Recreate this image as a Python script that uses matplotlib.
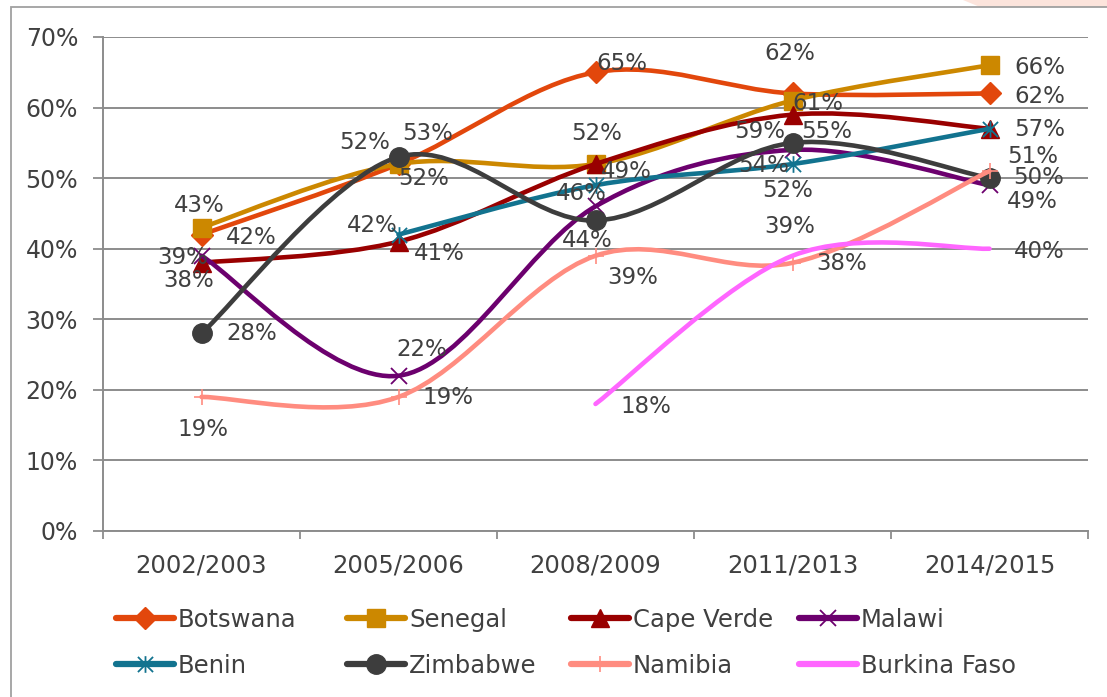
import numpy as np
import matplotlib
matplotlib.use("Agg")
import matplotlib.pyplot as plt
from matplotlib.path import Path
from matplotlib.patches import PathPatch, Rectangle, Polygon
from matplotlib.lines import Line2D

# ---------------- data ----------------
categories = ["2002/2003", "2005/2006", "2008/2009", "2011/2013", "2014/2015"]
series_names = ["Botswana", "Senegal", "Cape Verde", "Malawi",
                "Benin", "Zimbabwe", "Namibia", "Burkina Faso"]
botswana = [42, 52, 65, 62, 62]
senegal = [43, 52, 52, 61, 66]
cape_verde = [38, 41, 52, 59, 57]
malawi = [39, 22, 46, 54, 49]
benin = [np.nan, 42, 49, 52, 57]
zimbabwe = [28, 53, 44, 55, 50]
namibia = [19, 19, 39, 38, 51]
burkina_faso = [np.nan, np.nan, 18, 39, 40]
y_ticks = [0, 10, 20, 30, 40, 50, 60, 70]

values = [botswana, senegal, cape_verde, malawi, benin, zimbabwe, namibia, burkina_faso]

# ---------------- style ----------------
colors = ["#E2470C", "#CC8800", "#990000", "#6C006E",
          "#12738F", "#3D3D3D", "#FF8C80", "#FF66FF"]

star_path = Path([(-0.5, -0.5), (0.5, 0.5), (-0.5, 0.5), (0.5, -0.5), (0, -0.55), (0, 0.55)],
                 [Path.MOVETO, Path.LINETO, Path.MOVETO, Path.LINETO, Path.MOVETO, Path.LINETO])
markers = ["D", "s", "^", "x", star_path, "o", "+", None]
msizes = [11, 13, 13, 12, 12, 14, 11, 0]
mews = [1, 1, 1, 1.3, 1.3, 1, 1.2, 1]

# label offsets in pixels (dx, dy) where dy positive = down; None = no label
label_offsets = [
    [(50, 3), (25, 14), (26, -9), (-3, -40), (50, 3)],
    [(-2, -22), (-34, -22), (1, -31), (25, 3), (50, 2)],
    [(-13, 18), (41, 12), None, (-33, 17), None],
    [(-19, 2), (23, -26), (-14, -13), (-29, 16), (43, 16)],
    [None, (-26, -9), (31, -14), (-5, 26), (50, 1)],
    [(50, 0), (29, -23), (-8, 20), (34, -11), (49, -1)],
    [(1, 33), (49, 1), (37, 22), (49, 1), (43, -15)],
    [None, None, (50, 3), (-3, -29), (50, 3)],
]

text_color = "#404040"
grid_color = "#8C8C8C"
font = "DejaVu Sans"
plt.rcParams["font.family"] = [font]

W, H = 1107, 697
fig = plt.figure(figsize=(W / 100, H / 100), dpi=100)

# outer border + faint decoration
fig.patches.append(Polygon([(963 / W, 1), (980 / W, 1 - 7 / H), (1 + 0.01, 1 - 7 / H), (1 + 0.01, 1)],
                           closed=True, transform=fig.transFigure, facecolor="#FCE4DC",
                           edgecolor="none", zorder=0))
fig.patches.append(Rectangle((11 / W, -0.05), 1.2, 1 - 7 / H + 0.05, transform=fig.transFigure,
                             facecolor="none", edgecolor="#A0A0A0", linewidth=1.3, zorder=1))

ax_left, ax_right, ax_top, ax_bottom = 103, 1088, 37, 531
ax = fig.add_axes([ax_left / W, 1 - ax_bottom / H, (ax_right - ax_left) / W, (ax_bottom - ax_top) / H])
ax.set_facecolor("none")

x = np.arange(len(categories))


def smooth_path(xs, ys):
    pts = np.column_stack([xs, ys])
    n = len(pts)
    verts = [pts[0]]
    codes = [Path.MOVETO]
    for i in range(n - 1):
        p0 = pts[i]
        p3 = pts[i + 1]
        pm = pts[i - 1] if i > 0 else pts[i]
        pn = pts[i + 2] if i + 2 < n else pts[i + 1]
        c1 = p0 + (p3 - pm) / 6.0
        c2 = p3 - (pn - p0) / 6.0
        verts += [c1, c2, p3]
        codes += [Path.CURVE4] * 3
    return Path(np.array(verts), codes)


for k, (name, vals) in enumerate(zip(series_names, values)):
    v = np.array(vals, dtype=float)
    ok = ~np.isnan(v)
    xs, ys = x[ok], v[ok]
    col = colors[k]
    patch = PathPatch(smooth_path(xs, ys), facecolor="none", edgecolor=col, lw=3.3,
                      capstyle="round", joinstyle="round", zorder=3 + k * 0.1)
    ax.add_patch(patch)
    if markers[k] is not None:
        ax.plot(xs, ys, linestyle="none", marker=markers[k], markersize=msizes[k],
                color=col, markerfacecolor=col, markeredgecolor=col, markeredgewidth=mews[k],
                zorder=3.05 + k * 0.1)
    for i in range(len(categories)):
        if np.isnan(v[i]) or label_offsets[k][i] is None:
            continue
        dx, dy = label_offsets[k][i]
        ax.annotate(f"{int(v[i])}%", (x[i], v[i]), xytext=(dx, -dy), textcoords="offset pixels",
                    ha="center", va="center", fontsize=16.5, color=text_color, zorder=10)

ax.set_xlim(-0.5, len(categories) - 0.5)
ax.set_ylim(0, 70)
ax.set_yticks(y_ticks)
ax.set_yticklabels([f"{t}%" for t in y_ticks])
ax.set_xticks(x)
ax.set_xticklabels(categories)
ax.set_xticks(np.arange(-0.5, len(categories), 1.0), minor=True)
ax.tick_params(axis="x", which="major", length=0, pad=16, labelsize=17.5, labelcolor=text_color)
ax.tick_params(axis="x", which="minor", length=6, width=1.3, color=grid_color, direction="out")
ax.tick_params(axis="y", which="major", length=7, width=1.3, color=grid_color, pad=11,
               labelsize=17, labelcolor=text_color)
ax.grid(axis="y", color=grid_color, lw=1.4, zorder=0)
ax.set_axisbelow(True)
for s in ["top", "right"]:
    ax.spines[s].set_visible(False)
for s in ["left", "bottom"]:
    ax.spines[s].set_color(grid_color)
    ax.spines[s].set_linewidth(1.4)

# legend: individually placed entries (Excel-like layout)
leg_cols = [116, 347, 571, 799]
leg_rows = [620, 666]
for k, name in enumerate(series_names):
    r, c = divmod(k, 4)
    h = Line2D([], [], color=colors[k], lw=4.5, solid_capstyle="round",
               marker=markers[k] if markers[k] is not None else None,
               markersize=msizes[k], markerfacecolor=colors[k], markeredgecolor=colors[k],
               markeredgewidth=mews[k])
    lg = fig.legend([h], [name], loc="center left",
                    bbox_to_anchor=(leg_cols[c] / W, 1 - leg_rows[r] / H),
                    frameon=False, fontsize=17.5, handlelength=2.4, handletextpad=0.15,
                    borderpad=0, borderaxespad=0, labelcolor=text_color)

fig.savefig("out.png", dpi=100)
